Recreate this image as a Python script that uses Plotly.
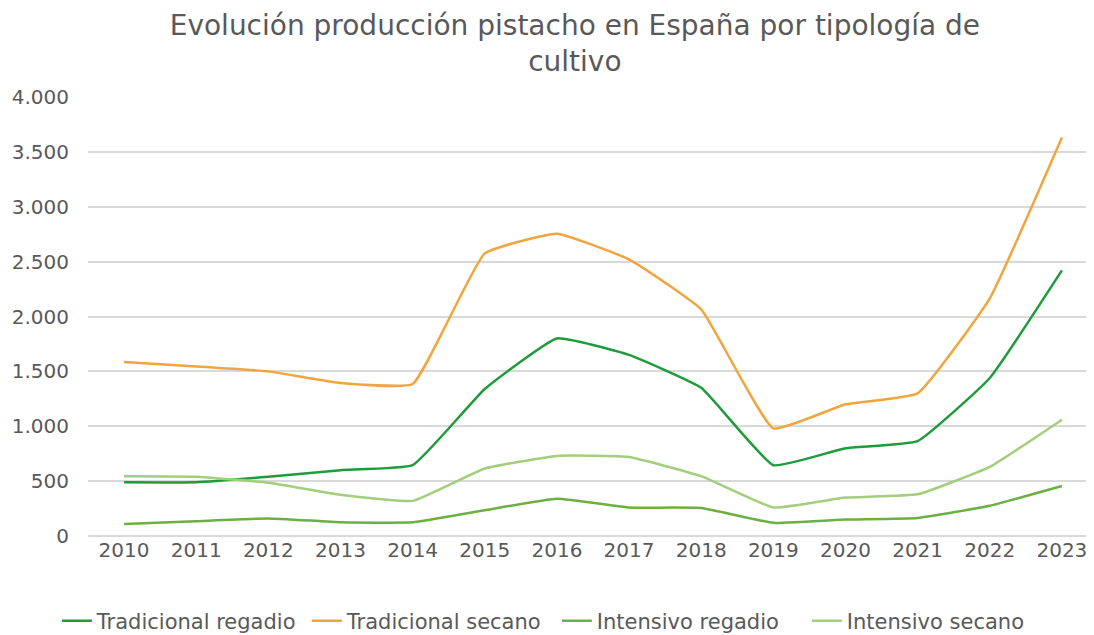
import plotly.graph_objects as go

years = [str(y) for y in range(2010, 2024)]
tradicional_regadio = [490, 490, 540, 600, 645, 1340, 1800, 1650, 1350, 645, 800, 865, 1440, 2420]
tradicional_secano = [1585, 1545, 1500, 1395, 1385, 2575, 2755, 2520, 2065, 980, 1200, 1300, 2165, 3630]
intensivo_regadio = [110, 135, 160, 125, 125, 235, 340, 260, 255, 120, 150, 165, 275, 455]
intensivo_secano = [545, 540, 485, 375, 320, 615, 730, 720, 545, 260, 350, 380, 630, 1060]

series = [
    ("Tradicional regadio", tradicional_regadio, "#1E9B3B"),
    ("Tradicional secano", tradicional_secano, "#F2A43F"),
    ("Intensivo regadio", intensivo_regadio, "#6CB043"),
    ("Intensivo secano", intensivo_secano, "#A2CE7E"),
]

fig = go.Figure()
for name, vals, color in series:
    fig.add_trace(go.Scatter(x=years, y=vals, name=name, mode="lines",
                             line=dict(color=color, width=2.5, shape="spline", smoothing=0.35)))

font_family = "'DejaVu Sans', sans-serif"
fig.update_layout(
    width=1086, height=627,
    paper_bgcolor="white", plot_bgcolor="white",
    separators=",.",
    title=dict(text="Evolución producción pistacho en España por tipología de<br>cultivo",
               x=0.522, xanchor="center", yref="container", y=0.957, yanchor="top",
               font=dict(family=font_family, size=28, color="#595959")),
    margin=dict(l=80, r=0, t=89, b=99),
    xaxis=dict(type="category", range=[-0.5, 13.445], showgrid=False, showline=False,
               ticks="", tickfont=dict(family=font_family, size=20, color="#595959")),
    yaxis=dict(range=[0, 4000], dtick=500, tickformat=",d", showgrid=True,
               gridcolor="#D9D9D9", gridwidth=2, zeroline=True, zerolinecolor="#D9D9D9",
               zerolinewidth=2, ticks="", ticklen=0, ticklabelstandoff=18,
               tickfont=dict(family=font_family, size=20, color="#595959")),
    legend=dict(orientation="h", xref="container", x=0.045, xanchor="left",
                yref="container", y=0.022, yanchor="middle",
                font=dict(family=font_family, size=21, color="#595959"),
                entrywidth=205, entrywidthmode="pixels",
                tracegroupgap=0),
)
fig.write_html("out.html")
